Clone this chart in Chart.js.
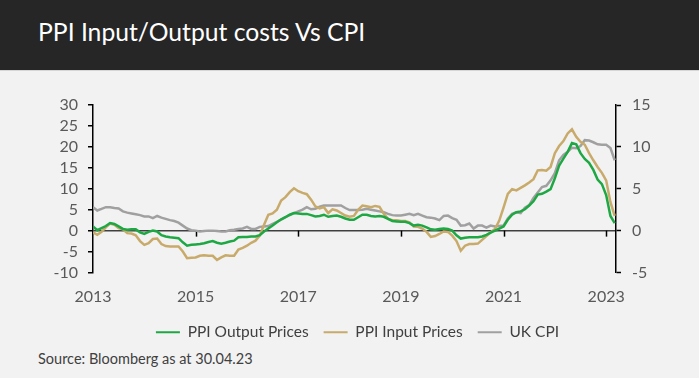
<!DOCTYPE html>
<html>
<head>
<meta charset="utf-8">
<script src="https://cdn.jsdelivr.net/npm/chart.js@4/dist/chart.umd.min.js"></script>
<style>
  html, body { margin: 0; padding: 0; background: #f2f2f2; width: 699px; height: 378px; overflow: hidden; font-family: Lato, "Noto Sans", sans-serif; }
  #header { position: absolute; left: 0; top: 0; width: 699px; height: 70px; background: #262626; border-bottom: 1px solid #d6d6d6; }
  #title { position: absolute; left: 38px; top: 17px; color: #ffffff; font-size: 24.7px; line-height: 30px; white-space: nowrap; }
  #chartWrap { position: absolute; left: 0; top: 71px; width: 699px; height: 279px; }
  #source { position: absolute; left: 38px; top: 350px; color: #404040; font-size: 14.5px; line-height: 18px; white-space: nowrap; }
</style>
</head>
<body>
<div id="header"><div id="title">PPI Input/Output costs Vs CPI</div></div>
<div id="chartWrap"><canvas id="c" width="699" height="279"></canvas></div>
<div id="source">Source: Bloomberg as at 30.04.23</div>
<script>
// Monthly observations, first month = Jan 2013 (index 0), last = Mar 2023
const firstYear = 2013;
const yearTicks = ['2013', '2015', '2017', '2019', '2021', '2023'];
const seriesNames = ['PPI Output Prices', 'PPI Input Prices', 'UK CPI'];

// PPI Output Prices, % y/y (left axis)
const ppiOutput = [
  1.0, 0.1, 0.6, 1.1, 1.8, 1.6, 1.0, 0.4, 0.2, 0.3, 0.3, -0.4,
  -0.8, -0.3, 0.0, -0.2, -1.1, -1.4, -1.6, -1.7, -1.8, -2.8, -3.6, -3.4,
  -3.3, -3.2, -3.0, -2.7, -2.5, -2.9, -3.1, -2.9, -2.6, -2.4, -1.6, -1.5,
  -1.5, -1.4, -1.4, -1.1, -0.2, 0.5, 1.2, 2.0, 2.7, 3.2, 3.8, 4.2,
  4.1, 4.0, 4.0, 3.7, 3.4, 3.5, 3.8, 3.3, 3.5, 3.6, 3.3, 2.9,
  2.6, 2.6, 3.2, 3.8, 3.8, 3.5, 3.4, 3.5, 3.3, 2.8, 2.3, 2.2,
  2.1, 2.1, 1.8, 1.2, 1.4, 1.2, 0.8, 0.3, 0.2, 0.4, 0.5, 0.4,
  0.0, -1.1, -1.9, -1.7, -1.6, -1.6, -1.6, -1.4, -1.0, -0.5, 0.0, 0.5,
  1.0, 2.6, 3.8, 4.4, 4.6, 5.1, 6.0, 7.0, 8.6, 8.8, 9.3, 9.9,
  12.5, 15.5, 17.2, 18.8, 20.9, 20.6, 18.5, 17.1, 16.2, 14.5, 12.2, 11.1,
  8.5, 3.5, 1.8
];

// PPI Input Prices, % y/y (left axis)
const ppiInput = [
  -0.4, -1.0, -0.3, 0.8, 1.7, 1.4, 0.6, 0.3, -0.6, -0.7, -1.1, -2.5,
  -3.4, -3.0, -2.0, -1.9, -3.2, -3.7, -3.8, -3.8, -3.8, -5.0, -6.6, -6.5,
  -6.4, -6.0, -5.9, -6.0, -6.0, -7.0, -6.4, -5.9, -6.0, -6.0, -4.5, -4.1,
  -3.6, -2.9, -2.4, -1.2, 1.4, 3.8, 4.1, 5.0, 7.2, 8.0, 9.2, 10.1,
  9.4, 9.0, 8.7, 7.4, 5.8, 5.3, 5.6, 4.2, 5.1, 4.8, 4.2, 3.6,
  3.3, 3.5, 5.0, 6.0, 5.8, 5.6, 5.9, 5.7, 4.0, 2.8, 2.5, 2.5,
  2.3, 2.3, 2.0, 1.0, 0.9, 0.5, -0.3, -1.5, -1.3, -0.8, -0.2, -0.3,
  -1.2, -2.5, -4.8, -3.6, -3.2, -3.2, -3.1, -2.2, -1.3, -0.4, 0.4, 2.4,
  5.5, 8.8, 9.9, 9.6, 10.2, 10.8, 11.5, 12.3, 14.4, 14.5, 14.3, 15.2,
  18.5, 20.2, 21.4, 23.2, 24.2, 22.4, 21.2, 20.5, 18.5, 16.8, 15.2, 13.8,
  12.0, 6.8, 3.5
];

// UK CPI, % y/y (right axis)
const ukCpi = [
  2.8, 2.4, 2.6, 2.8, 2.8, 2.7, 2.65, 2.3, 2.15, 2.05, 1.95, 1.85,
  1.7, 1.7, 1.5, 1.75, 1.55, 1.4, 1.25, 1.15, 0.95, 0.6, 0.25, 0.05,
  0.0, -0.1, -0.05, 0.0, 0.0, -0.05, -0.1, -0.1, 0.05, 0.1, 0.2, 0.25,
  0.45, 0.2, 0.2, 0.45, 0.5, 0.55, 0.8, 1.05, 1.3, 1.6, 1.85, 2.1,
  2.3, 2.5, 2.8, 2.55, 2.6, 2.85, 3.0, 3.0, 3.0, 3.0, 3.0, 2.7,
  2.45, 2.45, 2.45, 2.5, 2.6, 2.5, 2.4, 2.3, 2.2, 2.0, 1.85, 1.8,
  1.8, 1.9, 2.0, 1.85, 2.0, 1.8, 1.6, 1.55, 1.45, 1.25, 1.75, 1.8,
  1.5, 1.3, 0.6, 0.65, 0.85, 0.25, 0.6, 0.6, 0.35, 0.6, 0.5, 0.55,
  0.6, 1.45, 2.0, 2.2, 2.1, 2.75, 3.05, 3.9, 4.55, 5.2, 5.35, 6.0,
  6.85, 8.4, 9.05, 9.4, 9.9, 9.85, 10.1, 10.8, 10.75, 10.55, 10.3, 10.25,
  10.25, 9.85, 8.4
];

const leftTicks = [-10, 30];   // min / max of left axis
const rightTicks = [-5, 15];   // min / max of right axis

const toXY = arr => arr.map((v, i) => ({ x: i, y: v }));

const zeroTicks = {
  id: 'zeroTicks',
  beforeDatasetsDraw(chart) {
    const x = chart.scales.x, y = chart.scales.y;
    const y0 = y.getPixelForValue(0);
    const ctx = chart.ctx;
    ctx.save();
    ctx.strokeStyle = '#000';
    ctx.lineWidth = 1.5;
    x.ticks.forEach((t, i) => {
      if (i === 0) return;
      const px = Math.round(x.getPixelForValue(t.value)) + 0.5;
      ctx.beginPath();
      ctx.moveTo(px, y0);
      ctx.lineTo(px, y0 + 6);
      ctx.stroke();
    });
    ctx.restore();
  }
};

const tickFont = { family: 'Lato', size: 16 };
const tickColor = '#595959';

new Chart(document.getElementById('c'), {
  type: 'line',
  data: {
    datasets: [
      { label: seriesNames[0], data: toXY(ppiOutput), yAxisID: 'y', borderColor: '#1ea844', backgroundColor: '#1ea844', borderWidth: 2.5, pointRadius: 0, tension: 0, order: 1 },
      { label: seriesNames[1], data: toXY(ppiInput), yAxisID: 'y', borderColor: '#c8aa6a', backgroundColor: '#c8aa6a', borderWidth: 2.5, pointRadius: 0, tension: 0, order: 2 },
      { label: seriesNames[2], data: toXY(ukCpi), yAxisID: 'y2', borderColor: '#a0a0a0', backgroundColor: '#a0a0a0', borderWidth: 2.5, pointRadius: 0, tension: 0, order: 3 }
    ]
  },
  options: {
    responsive: false,
    animation: false,
    devicePixelRatio: 1,
    layout: { padding: { top: 34, left: 16, right: 0, bottom: 0 } },
    plugins: {
      tooltip: { enabled: false },
      legend: {
        position: 'bottom',
        labels: {
          boxWidth: 24, boxHeight: 2, padding: 15,
          color: '#404040', font: { family: 'Lato', size: 15.5 },
          generateLabels: chart => Chart.defaults.plugins.legend.labels.generateLabels(chart)
            .map(it => Object.assign(it, { lineWidth: 0, strokeStyle: it.fillStyle }))
        }
      }
    },
    scales: {
      x: {
        type: 'linear',
        min: 0, max: 122.3,
        border: { display: false },
        grid: { display: false, drawTicks: false },
        afterBuildTicks: s => { s.ticks = yearTicks.map((_, k) => ({ value: k * 24 })); },
        afterFit: s => { s.height = 37; },
        ticks: {
          padding: 15, color: tickColor, font: tickFont, maxRotation: 0, autoSkip: false,
          callback: (v, i) => yearTicks[i]
        }
      },
      y: {
        position: 'left',
        min: leftTicks[0], max: leftTicks[1],
        afterFit: s => { s.width = 77; },
        border: { display: true, color: '#000', width: 1.5 },
        grid: {
          drawOnChartArea: true, drawTicks: true, tickLength: 5, tickColor: '#000', tickWidth: 1.5,
          lineWidth: 1.5,
          color: c => (c.tick && c.tick.value === 0) ? '#404040' : 'rgba(0,0,0,0)'
        },
        ticks: { stepSize: 5, autoSkip: false, padding: 10, color: tickColor, font: tickFont }
      },
      y2: {
        position: 'right',
        min: rightTicks[0], max: rightTicks[1],
        afterFit: s => { s.width = 83; },
        border: { display: true, color: '#000', width: 1.5 },
        grid: { drawOnChartArea: false, drawTicks: true, tickLength: 5, tickColor: '#000', tickWidth: 1.5 },
        ticks: { stepSize: 5, autoSkip: false, padding: 11, color: tickColor, font: tickFont }
      }
    }
  },
  plugins: [zeroTicks]
});
</script>
</body>
</html>
